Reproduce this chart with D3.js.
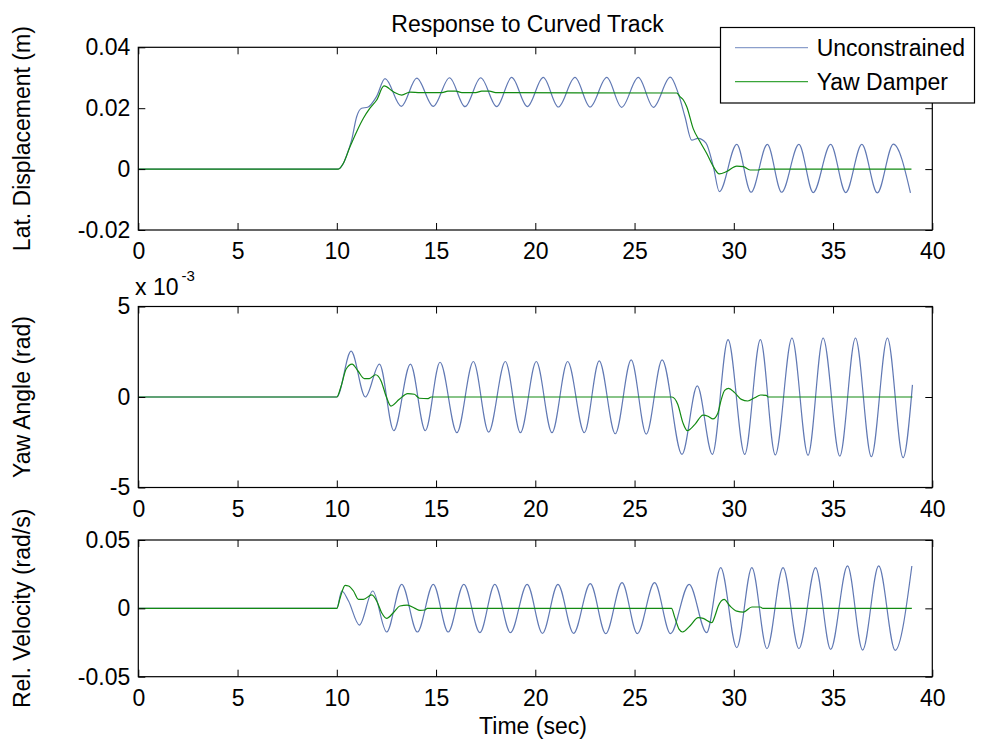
<!DOCTYPE html>
<html><head><meta charset="utf-8">
<script src="https://cdn.jsdelivr.net/npm/d3@7"></script>
<style>
body{margin:0;background:#fff;}
svg{display:block;}
text{font-family:"Liberation Sans",Arial,sans-serif;font-size:23px;fill:#000;}
</style>
</head><body>
<svg id="c" width="981" height="747"></svg>
<script>
// ---------- data (time in s) ----------
const timeTicks = [0,5,10,15,20,25,30,35,40];
const timeTickLabels = ["0","5","10","15","20","25","30","35","40"];
const latTicks = [-0.02,0,0.02,0.04];
const latTickLabels = ["-0.02","0","0.02","0.04"];
const yawTicks = [-0.005,0,0.005];
const yawTickLabels = ["-5","0","5"];
const velTicks = [-0.05,0,0.05];
const velTickLabels = ["-0.05","0","0.05"];
const seriesNames = ["Unconstrained","Yaw Damper"];

const latUnconstrained = [[0,0],[10.05,0],[10.3,0.0015],[10.5,0.0046],[10.75,0.0096],[11.0,0.0172],[11.25,0.0200],[11.55,0.0203],[12.0,0.0238],[12.43,0.0297],[13.25,0.0206],[14.03,0.0299],[14.86,0.0206],[15.68,0.0300],[16.46,0.0205],[17.25,0.0300],[18.06,0.0205],[18.81,0.0301],[19.6,0.0205],[20.4,0.0301],[21.16,0.0204],[22.0,0.0301],[22.76,0.0204],[23.6,0.0301],[24.35,0.0203],[25.19,0.0301],[25.95,0.0203],[26.8,0.0302],[27.2,0.0249],[27.54,0.0172],[27.88,0.0095],[28.2,0.0101],[28.6,0.0085],[28.97,0.0008],[29.27,-0.0074],[30.15,0.0081],[30.87,-0.0076],[31.69,0.0081],[32.41,-0.0076],[33.28,0.0081],[34.0,-0.0077],[34.88,0.0081],[35.64,-0.0077],[36.45,0.0081],[37.23,-0.0078],[38.04,0.0082],[38.9,-0.0078]];
const latYawDamper = [[0,0],[10.08,0],[10.33,0.0019],[10.67,0.0074],[11.0,0.0123],[11.34,0.0167],[11.67,0.0200],[12.01,0.0227],[12.38,0.0273],[12.85,0.0254],[13.27,0.0243],[13.69,0.0253],[14.2,0.0251],[15.3,0.0251],[15.6,0.0256],[16.0,0.0256],[16.3,0.0251],[17.0,0.0251],[17.3,0.0256],[17.7,0.0256],[18.0,0.0251],[27.12,0.0250],[27.29,0.0238],[27.46,0.0227],[27.63,0.0205],[27.96,0.0132],[28.3,0.0090],[28.63,0.0052],[28.97,0.0008],[29.27,-0.0016],[29.64,-0.0008],[30.15,0.0010],[30.48,0.0008],[30.82,-0.0003],[31.23,-0.0003],[31.4,0],[38.95,0]];

const yawUnconstrained = [[0,0],[10.0,0],[10.72,0.00253],[11.44,0.0000],[12.15,0.00182],[12.87,-0.00186],[13.71,0.00182],[14.46,-0.00186],[15.2,0.00192],[16.05,-0.00197],[16.88,0.00196],[17.65,-0.00194],[18.49,0.00196],[19.25,-0.00197],[20.05,0.00196],[20.84,-0.00197],[21.63,0.00196],[22.47,-0.00197],[23.22,0.00200],[24.03,-0.00203],[24.83,0.00205],[25.59,-0.00205],[26.39,0.00205],[27.39,-0.00317],[28.16,0.00061],[28.92,-0.00317],[29.71,0.00317],[30.55,-0.00317],[31.34,0.00317],[32.09,-0.00320],[32.93,0.00326],[33.74,-0.00322],[34.5,0.00326],[35.34,-0.00326],[36.13,0.00326],[36.93,-0.00330],[37.74,0.00326],[38.53,-0.00335],[39.0,0.00067]];
const yawYawDamper = [[0,0],[10.0,0],[10.22,0.00061],[10.47,0.00155],[10.77,0.00182],[11.06,0.00145],[11.39,0.00102],[11.64,0.00102],[11.95,0.00123],[12.23,0.00089],[12.48,0.00006],[12.73,-0.0005],[13.15,-0.00013],[13.57,0.00019],[13.91,0.00015],[14.16,-0.00007],[14.6,-0.00009],[14.75,0],[26.88,0],[27.18,-0.00041],[27.44,-0.00143],[27.66,-0.00186],[28.03,-0.00153],[28.45,-0.0010],[28.7,-0.00106],[28.95,-0.00121],[29.2,-0.00088],[29.37,-0.00013],[29.54,0.00037],[29.74,0.00048],[30.04,0.00024],[30.38,-0.00013],[30.71,-0.00022],[31.05,-0.00004],[31.35,0.00011],[31.64,0.00009],[31.72,0],[39.0,0]];

const velUnconstrained = [[0,0],[10.0,0],[10.25,0.0127],[10.59,0.0054],[11.14,-0.0122],[11.81,0.0127],[12.51,-0.0173],[13.27,0.0176],[14.06,-0.0173],[14.86,0.0176],[15.61,-0.0173],[16.4,0.0176],[17.21,-0.0178],[17.96,0.0176],[18.75,-0.0178],[19.59,0.0176],[20.36,-0.0183],[21.14,0.0176],[21.93,-0.0183],[22.77,0.0181],[23.55,-0.0185],[24.37,0.0188],[25.14,-0.0185],[26.01,0.0188],[26.81,-0.0185],[27.75,0.0176],[28.63,-0.0178],[29.34,0.0298],[30.15,-0.0288],[30.91,0.0298],[31.67,-0.0295],[32.48,0.0298],[33.28,-0.0295],[34.12,0.0298],[34.88,-0.0300],[35.73,0.0310],[36.49,-0.0305],[37.3,0.0310],[38.13,-0.0307],[38.97,0.0310]];
const velYawDamper = [[0,0],[10.0,0],[10.17,0.0078],[10.42,0.0168],[10.59,0.0163],[10.84,0.0127],[11.09,0.0066],[11.34,0.0066],[11.76,0.0098],[12.01,0.0054],[12.26,-0.0032],[12.51,-0.0073],[12.85,-0.0032],[13.18,0.0017],[13.55,0.0024],[13.94,0],[14.19,-0.0015],[14.44,-0.0012],[14.56,0],[26.86,0],[27.03,-0.0068],[27.25,-0.0154],[27.42,-0.0173],[27.79,-0.0129],[28.21,-0.0068],[28.46,-0.0073],[28.89,-0.0105],[29.05,-0.0056],[29.22,0.0017],[29.51,0.0066],[29.81,0.0017],[30.15,-0.0020],[30.49,-0.0027],[30.91,0.0010],[31.33,0.0010],[31.47,0],[38.97,0]];

// ---------- layout ----------
const colors = ["#6179b4","#128a12"];
const legendColors = ["#8c9fcb","#3aa53a"];
const axLeft = 138.3, axRight = 932.3;
const svg = d3.select("#c");
const x = d3.scaleLinear().domain([0,40]).range([axLeft, axRight]);

const panels = [
  {top:47.3, bottom:230, domain:[-0.02,0.04], ticks:latTicks, labels:latTickLabels, title:"Lat. Displacement (m)", series:[latUnconstrained, latYawDamper]},
  {top:306.5, bottom:487.5, domain:[-0.005,0.005], ticks:yawTicks, labels:yawTickLabels, title:"Yaw Angle (rad)", series:[yawUnconstrained, yawYawDamper], exponent:true},
  {top:540, bottom:676.7, domain:[-0.05,0.05], ticks:velTicks, labels:velTickLabels, title:"Rel. Velocity (rad/s)", series:[velUnconstrained, velYawDamper]}
];

panels.forEach((p,i)=>{
  const y = d3.scaleLinear().domain(p.domain).range([p.bottom, p.top]);
  const g = svg.append("g");
  const clipId = "clip"+i;
  svg.append("clipPath").attr("id",clipId).append("rect")
    .attr("x",axLeft).attr("y",p.top).attr("width",axRight-axLeft).attr("height",p.bottom-p.top);

  const line = d3.line().x(d=>x(d[0])).y(d=>y(d[1])).curve(d3.curveMonotoneX);
  p.series.forEach((s,k)=>{
    g.append("path").datum(s).attr("d",line).attr("clip-path",`url(#${clipId})`)
      .attr("fill","none").attr("stroke",colors[k]).attr("stroke-width",1.2);
  });

  const fmtX = (d,j)=>timeTickLabels[j];
  const fmtY = (d,j)=>p.labels[j];
  const ax = (gen, tr)=>{
    const a = g.append("g").attr("transform",tr).call(gen);
    a.select(".domain").remove();
    a.selectAll(".tick line").attr("stroke","#000").attr("stroke-width",1);
    a.selectAll("text").style("font-family",'"Liberation Sans",Arial,sans-serif').style("font-size","23px").attr("fill","#000");
    return a;
  };
  ax(d3.axisBottom(x).tickValues(timeTicks).tickFormat(fmtX).tickSizeInner(-7).tickSizeOuter(0).tickPadding(13), `translate(0,${p.bottom})`);
  ax(d3.axisTop(x).tickValues(timeTicks).tickFormat("").tickSizeInner(-7).tickSizeOuter(0), `translate(0,${p.top})`);
  ax(d3.axisLeft(y).tickValues(p.ticks).tickFormat(fmtY).tickSizeInner(-7).tickSizeOuter(0).tickPadding(8), `translate(${axLeft},0)`);
  ax(d3.axisRight(y).tickValues(p.ticks).tickFormat("").tickSizeInner(-7).tickSizeOuter(0), `translate(${axRight},0)`);

  g.append("rect").attr("x",axLeft).attr("y",p.top).attr("width",axRight-axLeft).attr("height",p.bottom-p.top)
    .attr("fill","none").attr("stroke","#000").attr("stroke-width",1.2);

  g.append("text").attr("transform",`translate(30,${(p.top+p.bottom)/2}) rotate(-90)`)
    .attr("text-anchor","middle").text(p.title);

  if (p.exponent){
    g.append("text").attr("x",135).attr("y",p.top-12).text("x 10");
    g.append("text").attr("x",181.5).attr("y",p.top-26).style("font-size","15px").text("-3");
  }
});

svg.append("text").attr("x",533).attr("y",31.5).attr("text-anchor","middle").attr("x",527.5).text("Response to Curved Track");
svg.append("text").attr("x",533).attr("y",734).attr("text-anchor","middle").text("Time (sec)");

// legend
const lg = svg.append("g");
lg.append("rect").attr("x",720.5).attr("y",27.5).attr("width",254).attr("height",75.5)
  .attr("fill","#fff").attr("stroke","#000").attr("stroke-width",1.2);
seriesNames.forEach((n,k)=>{
  const yy = 47.7 + k*34;
  lg.append("line").attr("x1",735).attr("x2",808).attr("y1",yy).attr("y2",yy)
    .attr("stroke",legendColors[k]).attr("stroke-width",1.2);
  lg.append("text").attr("x",816.7).attr("y",yy+8).text(n);
});
</script>
</body></html>
